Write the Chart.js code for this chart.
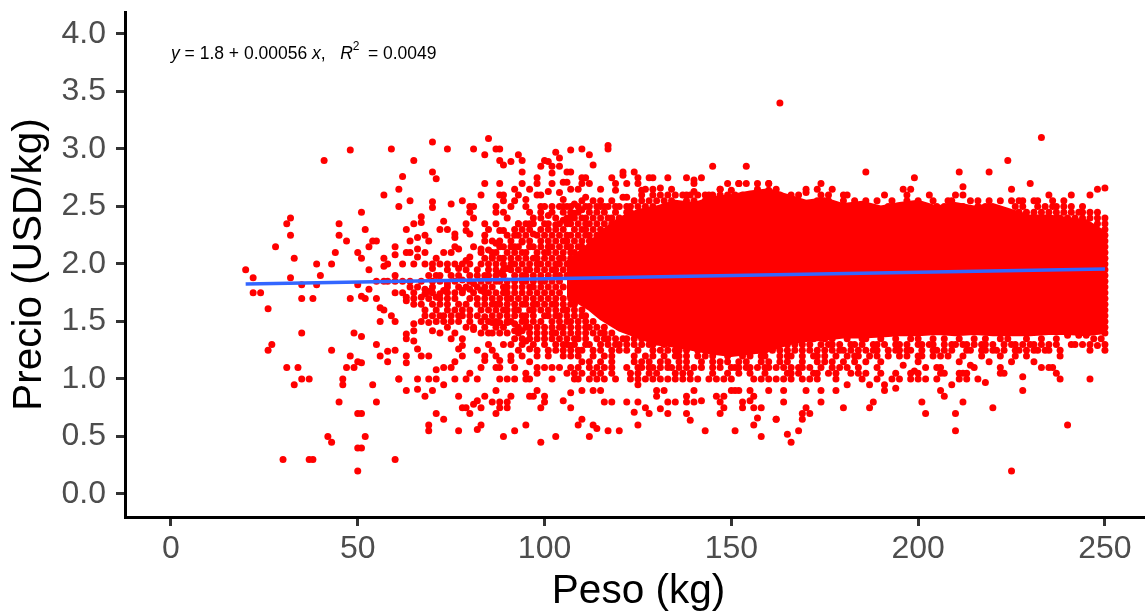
<!DOCTYPE html>
<html>
<head>
<meta charset="utf-8">
<title>Precio vs Peso</title>
<script src="https://cdn.jsdelivr.net/npm/chart.js@4/dist/chart.umd.min.js"></script>
<style>
    html, body { margin: 0; padding: 0; background: #fff; overflow: hidden; }
    canvas { display: block; }
</style>
</head>
<body>
<!-- wider than the window on purpose: the x axis runs off the right edge, as in the original crop -->
<canvas id="chart" width="1156" height="614"></canvas>
<script>
// values: [peso, precio]
const puntosIzquierda = [
    [20,1.95],[22,1.88],[22,1.75],[24,1.75],[28,2.15],[31,2.35],[32,2.4],[32,2.25],[33,2.05],[32,1.88],[35,1.82],[35,1.7],
    [38,1.7],[39,2],[40,1.9],[39,1.82],[41,2.9],[48,2.99],[59,3],[43,2],[44,2.1],[45,2.35],[45,2.25],[47,2.2],[50,2.1],
    [51,2.45],[52,2.3],[51,2.05],[53,2.15],[53,1.95],[54,2.2],[55,2.2],[57,2.6],[57,2.05],[57,1.98],[58,2],[60,2.15],
    [60,2.08],[60,1.9],[61,2.65],[61,2.5],[50,1.82],[53,1.78],[55,1.85],[57,1.85],[58,1.85],[60,1.85],[48,1.7],[51,1.72],
    [52,1.7],[55,1.7],[60,1.75],[26,1.61],[56,1.62],[57,1.6],[59,1.55],[56,1.5],[60,1.5],[35,1.4],[49,1.4],[51,1.37],
    [55,1.3],[27,1.3],[26,1.25],[43,1.25],[58,1.24],[60,1.25],[56,1.2],[48,1.2],[50,1.15],[51,1.14],[58,1.15],[31,1.1],
    [34,1.1],[47,1.1],[49,1.1],[33,0.95],[35,1],[37,1],[46,1],[46,0.95],[54,0.95],[61,1],[45,0.8],[55,0.8],[50,0.7],
    [51,0.7],[42,0.5],[43,0.45],[52,0.5],[50,0.4],[51,0.4],[30,0.3],[37,0.3],[38,0.3],[60,0.3],[50,0.2]
];
const puntosCentroAlto = [
    [70,3.06],[74,3],[81,3],[85,3.09],[84,2.95],[87,3],[88,3],[88,2.9],[89,2.86],[91,2.89],[93,2.95],[94,2.9],[65,2.9],
    [62,2.76],[70,2.8],[71,2.74],[84,2.7],[88,2.7],[94,2.8],[94,2.7],[92,2.65],[93,2.6],[88,2.6],[89,2.6],[89,2.55],[83,2.6],
    [78,2.55],[75,2.52],[70,2.54],[70,2.49],[64,2.55],[80,2.5],[81,2.5],[80,2.45],[81,2.4],[87,2.5],[87,2.45],[92,2.55],
    [91,2.5],[89,2.45],[90,2.4],[95,2.56],[95,2.5],[96,2.45],[96,2.65],[98,2.75],[98,2.7],[99,2.85],[100,2.9],[101,2.89],
    [103,2.97],[104,2.92],[104,2.85],[102,2.85],[102,2.79],[102,2.7],[101,2.63],[104,2.62],[105,2.71],[106,2.71],[106,2.8],
    [107,2.8],[107,2.99],[110,3],[112,2.95],[113,2.86],[117,3.03],[117,3],[110,2.75],[111,2.75],[112,2.7],[110,2.7],[118,2.75],
    [121,2.8],[121,2.77],[124,2.8],[125,2.75],[133,2.75],[138,2.75],[140,2.73],[142,2.75],[145,2.85],[154,2.85],[163,3.4],
    [149,2.7],[152,2.7],[154,2.7],[157,2.7],[160,2.7],[147,2.65],[128,2.75],[129,2.75],[122,2.7],[119,2.7],[115,2.65],
    [109,2.65],[107,2.65],[98,2.6],[99,2.6],[105,2.56],[100,2.5],[101,2.42],[67,2.41],[67,2.36],[65,2.35],[63,2.3],[73,2.37],
    [72,2.3],[74,2.3],[76,2.26],[76,2.23],[79,2.35],[79,2.29],[80,2.26],[84,2.35],[85,2.3],[84,2.25],[84,2.2],[87,2.35],
    [88,2.29],[89,2.29],[92,2.3],[68,2.25],[66,2.23],[64,2.2],[69,2.2],[66,2.13],[68,2.1],[63,2.1],[64,2.1],[66,2.06],
    [76,2.15],[77,2.13],[73,2.1],[75,2.1],[81,2.15],[83,2.13],[80,2.06],[79,2.03],[87,2.18],[88,2.15],[85,2.12],[62,2],
    [68,2],[71,2.05],[70,2],[72,2],[74,2],[76,2],[78,2],[70,1.96],[77,1.96],[83,2],[82,1.95],[71,1.9],[72,1.9],[75,1.9],
    [86,2.06],[90,2.1],[92,2.15],[94,2.19],[96,2.35],[93,2.35],[92,2.25],[97,2.26],[90,1.96],[88,1.92],[66,1.8],[68,1.78],
    [69,1.76],[74,1.83],[73,1.77],[72,1.74],[76,1.75],[78,1.86],[78,1.77],[80,1.78],[81,1.83],[83,1.77],[84,1.75],[63,1.71],
    [67,1.71],[71,1.71],[107,2.5],[108,2.52],[110,2.55],[111,2.58],[113,2.55],[115,2.55],[117,2.5],[118,2.55],[121,2.58],
    [124,2.55],[108,2.44],[110,2.47],[111,2.5],[115,2.5],[120,2.5],[105,2.5],[107,2.4],[111,2.4],[105,2.38],[103,2.34],
    [119,2.64],[122,2.58],[125,2.7],[126,2.64],[127,2.65],[129,2.65],[131,2.66],[134,2.65],[137,2.6],[140,2.7],[140,2.63],
    [144,2.6],[147,2.65],[150,2.64],[152,2.7],[157,2.65],[160,2.64],[162,2.6]
];
const puntosCentroBajo = [
    [63,1.68],[65,1.65],[67,1.65],[70,1.65],[68,1.74],[72,1.7],[73,1.55],[75,1.55],[75,1.5],[78,1.6],[78,1.55],[80,1.5],[81,1.43],
    [68,1.55],[67,1.5],[69,1.49],[70,1.42],[65,1.48],[65,1.42],[63,1.39],[63,1.35],[65,1.33],[75,1.35],[78,1.35],[78,1.29],
    [77,1.26],[78,1.2],[83,1.4],[85,1.4],[86,1.4],[82,1.25],[84,1.2],[85,1.3],[86,1.25],[87,1.2],[88,1.16],[84,1.16],[87,1.1],
    [88,1.1],[83,1.1],[66,1.26],[67,1.2],[69,1.2],[63,1.2],[63,1.14],[76,1.15],[75,1.1],[73,1.1],[71,1.08],[61,1],[66,1],[69,1],
    [71,1],[76,1],[79,1],[80,1.05],[82,1],[88,1],[90,1],[92,1],[91,1.2],[91,1.16],[92,1.1],[94,1.2],[96,1.15],[95,1.05],[95,1],
    [96,1],[98,1.1],[100,1.1],[102,1.1],[104,1.1],[98,1.05],[102,1],[98,1.2],[101,1.2],[103,1.25],[105,1.2],[107,1.29],[107,1.25],
    [92,1.35],[94,1.35],[95,1.33],[96,1.26],[98,1.25],[100,1.35],[102,1.35],[92,1.48],[94,1.42],[92,1.42],[88,1.49],[90,1.49],
    [86,1.49],[84,1.54],[82,1.65],[87,1.65],[88,1.55],[63,0.9],[66,0.91],[70,0.9],[68,0.85],[73,0.95],[77,0.85],[87,0.9],[84,0.85],
    [82,0.81],[81,0.78],[79,0.75],[78,0.75],[80,0.7],[83,0.75],[86,0.8],[88,0.8],[90,0.8],[91,0.85],[88,0.75],[90,0.75],[87,0.7],
    [96,0.85],[98,0.9],[97,0.85],[100,0.85],[100,0.8],[99,0.75],[105,0.81],[107,0.88],[110,0.9],[107,0.75],[113,0.9],[115,0.9],
    [71,0.7],[73,0.65],[69,0.6],[69,0.55],[77,0.55],[82,0.56],[83,0.6],[89,0.5],[92,0.55],[95,0.6],[99,0.45],[103,0.5],[109,0.6],
    [110,0.65],[113,0.6],[114,0.57],[112,0.5],[117,0.55],[120,0.55],[125,0.6],[143,0.55],[151,0.55],[156,0.6],[157,0.66],[158,0.5],
    [162,0.65],[116,0.8],[118,0.8],[122,0.8],[125,0.8],[127,0.75],[128,0.7],[124,0.71],[131,0.74],[133,0.7],[133,0.8],[135,0.8],
    [138,0.7],[139,0.64],[138,0.8],[140,0.8],[142,0.81],[147,0.7],[146,0.85],[148,0.85],[147,0.8],[148,0.75],[153,0.8],[153,0.75],
    [155,0.81],[156,0.85],[156,0.75],[158,0.75],[155,0.9],[151,0.9],[150,0.9],[152,0.9],[160,0.9],[130,0.9],[132,0.9],[130,0.85],
    [125,0.95],[140,0.9],[138,0.85],[108,1],[109,1],[112,1],[114,1],[116,1],[119,1],[123,1],[125,1],[127,1],[129,1],[131,1],[133,1],
    [135,1],[137,1],[139,1],[141,1],[144,1],[146,1],[148,1],[150,1],[156,1],[158,1],[160,1]
];
const puntosDerechaBajo = [
    [164,0.9],[170,0.9],[174,0.9],[178,0.9],[164,0.8],[174,0.8],[180,0.75],[187,0.75],[188,0.8],[162,0.65],[169,0.7],[169,0.65],
    [170,0.75],[171,0.7],[165,0.52],[168,0.55],[166,0.45],[162,1],[164,1],[166,1],[169,1],[171,1],[173,1],[178,1],[181,0.95],[185,1],
    [187,0.95],[189,1],[191,0.9],[191,0.95],[194,0.92],[193,1],[195,1],[198,1],[200,1],[202,1],[205,1],[211,1],[213,1],[216,1],
    [218,0.97],[209,0.95],[206,0.9],[207,0.85],[201,0.8],[202,0.7],[210,0.7],[212,0.8],[210,0.55],[220,0.75],[228,0.9],[228,1.02],
    [240,0.6],[225,0.2],[238,1],[237,1.05],[246,1],[196,1.12],[199,1.07],[214,1.12],[250,1.25],[248,1.29],[246,1.25],[242,1.3],
    [238,1.2],[238,1.25],[233,1.1],[235,1.1],[236,1.1],[240,1.38],[243,1.38],[245,1.38],[247,1.35],[249,1.35],[250,1.3]
];
const puntosDerechaAlto = [
    [186,2.8],[199,2.75],[211,2.8],[219,2.8],[224,2.9],[233,3.1],[230,2.7],[225,2.65],[212,2.67],[212,2.6],[210,2.6],[196,2.65],
    [198,2.65],[197,2.6],[191,2.6],[203,2.6],[235,2.6],[241,2.6],[246,2.6],[248,2.65],[250,2.66],[174,2.7],[173,2.65],[177,2.65],
    [170,2.65],[170,2.62],[162,2.65],[160,2.7],[174,2.6],[176,2.6],[180,2.6],[181,2.6],[166,2.6],[168,2.6],[163,2.6],[239,2.55],
    [244,2.5],[244,2.45],[248,2.45],[250,2.4],[248,2.4],[242,2.4],[237,2.4],[233,2.4],[250,2.35],[248,2.35],
    [250,2.3],[250,2.25],[250,2.2],[250,2.15],[250,2.1],[250,2.05],[250,2],[250,1.95],[250,1.9],[250,1.85],[250,1.8],[250,1.75],
    [250,1.7],[250,1.65],[250,1.6],[250,1.55],[250,1.5],[250,1.45],[250,1.4]
];

// prices sit on 0.05 steps, so the crowded fringes are easier to read as rows
const filasPrecio = [2.6, 2.55, 2.5, 2.45, 2.4, 2.35, 2.3, 2.25, 2.2, 2.15, 2.1, 2.05, 2, 1.95, 1.9, 1.85, 1.8, 1.75, 1.7, 1.65, 1.6, 1.55, 1.5, 1.45, 1.4, 1.35, 1.3, 1.25, 1.2, 1.15, 1.1, 1.05];
const filasPeso = [
    [126,129,131,133,135,138,139,141,143,145,147,149,151,153,155,158,161],
    [126,128,130,132,134,138,140,143,147,149,153,156,160,163,167,173,176,180,183,186,189,193,197,200,204,208,209,214,216,219,222,225,227,228,231,232,236],
    [99,102,104,106,109,112,114,116,119,122,123,125,127,129,192,196,205,207,212,216,218,226,228,232,234,236,237,239,241],
    [99,102,105,107,109,112,114,116,119,122,123,227,229,231,233,235,237,239,241,243,246],
    [97,99,103,106,108,110,113,115,117,118,120,122,124,125,127,231,235,238,240,244,246],
    [93,95,97,100,101,104,106,107,109,111,112,114,116,118,119,121,123,125,126,128],
    [94,96,99,101,103,105,108,110,111,113,115,117,119,120,122,124,126],
    [90,93,95,98,100,102,104,106,107,109,111,112,114,116,118,120,121,123],
    [86,88,91,94,96,99,101,103,105,106,108,110,112,113,115,117,119],
    [89,91,93,96,97,99,101,102,104,106,107,109,110,112,114,116],
    [83,86,87,92,94,95,98,100,101,103,105,107,108,110,111,113,115],
    [84,86,88,89,91,93,95,97,98,100,102,104,105,107,109,110,112,114],
    [65,80,85,87,89,91,92,94,96,98,99,101,103,104,106,108],
    [74,79,85,87,89,91,93,95,96,98,100,102,103,105,107],
    [69,77,80,82,84,85,87,89,92,94,95,97,99,101,103,104,106],
    [62,64,67,70,72,76,80,83,85,87,88,90,92,94,95,97,99,100,102,104],
    [64,70,74,77,79,82,84,86,89,90,92,94,96,97,99,101,103,105],
    [62,65,70,74,78,81,85,87,89,90,92,94,96,98,100,102,104],
    [65,69,74,76,80,82,84,86,88,90,91,93,95,97,99,101,103,105,107],
    [72,74,77,79,84,86,88,90,92,94,95,97,98,100,102,103,105,107,108],
    [68,71,74,76,80,83,85,87,89,90,92,93,96,97,99,101,103,105,106,108,110],
    [70,72,77,80,82,86,90,92,94,95,97,100,101,103,104,106,108,110,111],
    [71,73,77,83,85,87,90,91,94,95,97,99,102,104,106,107,109,111,113],
    [74,79,81,84,87,89,93,95,96,98,100,102,104,105,107,109,111,112,114,116],
    [72,76,88,90,93,96,98,100,102,103,105,107,109,111,113,115,116,118],
    [96,98,104,106,108,109,111,114,116,117,119,121,122,124,126,128,130,166,168,172,175,177,181,185,186,190,194,198,200,204,207,211,215,218,222,224,229,233,237],
    [89,91,94,97,100,103,105,106,108,111,112,115,117,119,120,122,124,126,128,129,132,135,165,167,169,171,174,176,177,179,182,183,185,188,189,191,194,195,197,200,201,203,204,207,209,210,212,213,215,217,218,220,223,225,226,228,230,231,233,235,237,241,244,246],
    [93,101,105,109,110,113,115,118,120,122,125,129,131,133,135,136,138,141,143,145,148,150,152,155,157,159,161,163,165,167,169,171,173,175,177,179,180,182,184,186,188,189,192,194,195,197,198,201,204,205,207,209,213,214,217,218,220,221,223,226,227,229,231,232,234,235],
    [107,109,113,116,118,124,127,129,132,135,136,138,141,143,145,149,153,155,158,159,163,165,166,169,172,173,175,178,181,183,184,187,189,192,195,197,200,201,204,206,208,212,217,222,226,229],
    [110,112,115,118,124,126,128,131,133,136,138,142,145,147,149,152,154,158,160,163,165,169,173,175,177,180,183,186,190,200,211,219,225,231],
    [107,109,112,114,116,118,122,125,126,128,129,131,133,134,136,138,140,142,145,147,150,151,152,154,155,157,159,160,162,164,166,168,169,171,174,177,179,181,184,189,202,205,206,215,222],
    [106,108,110,113,115,118,123,125,128,130,135,137,139,145,149,152,155,159,165,166,168,172,173,176,178,182,184,186,190,194,198,200,206,207,211,212,213,222,223]
];

// where the dots overlap into solid red only the outline can be read
const bandaPeso = [106,112,115,120,125,130,135,140,145,150,155,160,165,170,175,180,185,190,195,200,205,210,215,220,225,230,235,240,245,250];
const bandaAlta = [2.02,2.18,2.28,2.4,2.47,2.5,2.55,2.53,2.58,2.6,2.63,2.65,2.6,2.55,2.57,2.52,2.54,2.5,2.53,2.55,2.5,2.53,2.5,2.52,2.47,2.42,2.42,2.4,2.38,2.28];
const bandaBaja = [1.72,1.6,1.52,1.42,1.36,1.3,1.28,1.25,1.22,1.2,1.22,1.24,1.3,1.33,1.34,1.36,1.36,1.37,1.38,1.38,1.39,1.38,1.39,1.38,1.38,1.38,1.39,1.39,1.38,1.4];

const ajustePeso = [20, 250];
const ajustePrecio = [1.826, 1.956];

const ticksPeso = [0, 50, 100, 150, 200, 250];
const ticksPrecio = [0, 0.5, 1, 1.5, 2, 2.5, 3, 3.5, 4];

const RED = "#FF0000";
const FONT = "'Liberation Sans', Arial, sans-serif";

const puntosFilas = filasPrecio.flatMap((y, i) => filasPeso[i].map((x) => [x, y]));
const puntos = [
    ...puntosIzquierda, ...puntosCentroAlto, ...puntosCentroBajo,
    ...puntosDerechaBajo, ...puntosDerechaAlto, ...puntosFilas
].map(([x, y]) => ({ x, y }));

const toXY = (xs, ys) => xs.map((x, i) => ({ x, y: ys[i] }));

// y = 1.8 + 0.00056 x,  R^2 = 0.0049
const equationPlugin = {
    id: "equation",
    afterDraw(chart) {
        const { ctx, scales } = chart;
        const parts = [
            ["y", "italic", 17.5, 0], [" = 1.8 + 0.00056 ", "", 17.5, 0], ["x", "italic", 17.5, 0], [",   ", "", 17.5, 0],
            ["R", "italic", 17.5, 0], ["2", "", 12, -8], ["\u2009 = 0.0049", "", 17.5, 0]
        ];
        let x = scales.x.getPixelForValue(0);
        const y = scales.y.getPixelForValue(3.82);
        ctx.save();
        ctx.fillStyle = "#000";
        ctx.textBaseline = "middle";
        ctx.textAlign = "left";
        parts.forEach(([text, style, size, dy]) => {
            ctx.font = `${style} ${size}px ${FONT}`;
            ctx.fillText(text, x, y + dy);
            x += ctx.measureText(text).width;
        });
        ctx.restore();
    }
};

const axisStyle = (ticksList, format, titleText, fitFn, titlePadding, tickPadding) => ({
    type: "linear",
    border: { display: true, color: "#000", width: 3 },
    grid: { display: true, drawOnChartArea: false, drawTicks: true, tickLength: 9, tickColor: "#333333", tickWidth: 3 },
    ticks: { color: "#4D4D4D", font: { family: FONT, size: 32 }, padding: tickPadding, autoSkip: false, maxRotation: 0, callback: format },
    title: { display: true, text: titleText, color: "#000", font: { family: FONT, size: 40.5 }, padding: titlePadding },
    afterBuildTicks: (scale) => { scale.ticks = ticksList.map((value) => ({ value })); },
    afterFit: (scale) => {
        fitFn(scale);
        scale.paddingTop = scale.paddingBottom = scale.paddingLeft = scale.paddingRight = 0;
    }
});

new Chart(document.getElementById("chart").getContext("2d"), {
    type: "scatter",
    data: {
        datasets: [
            { data: toXY(ajustePeso, ajustePrecio), showLine: true, borderColor: "#3366FF", borderWidth: 3.5, pointRadius: 0, order: 0 },
            { data: puntos, backgroundColor: RED, borderWidth: 0, pointRadius: 3.5, order: 1 },
            { data: toXY(bandaPeso, bandaBaja), showLine: true, borderColor: RED, borderWidth: 2, pointRadius: 0, order: 2 },
            { data: toXY(bandaPeso, bandaAlta), showLine: true, borderColor: RED, borderWidth: 2, pointRadius: 0, backgroundColor: RED, fill: "-1", order: 2 }
        ]
    },
    options: {
        responsive: false,
        animation: false,
        layout: { padding: { top: 12, right: 0, left: 0, bottom: 0 } },
        plugins: { legend: { display: false }, tooltip: { enabled: false } },
        scales: {
            x: {
                ...axisStyle(ticksPeso, (v) => String(v), "Peso (kg)", (s) => { s.height = 97; }, { top: 2, bottom: -2 }, 4),
                min: -12.3,
                max: 262.6
            },
            y: {
                ...axisStyle(ticksPrecio, (v) => Number(v).toFixed(1), "Precio (USD/kg)", (s) => { s.width = 125; }, { top: 6, bottom: 4 }, 10),
                min: -0.2,
                max: 4.19
            }
        }
    },
    plugins: [equationPlugin]
});
</script>
</body>
</html>
